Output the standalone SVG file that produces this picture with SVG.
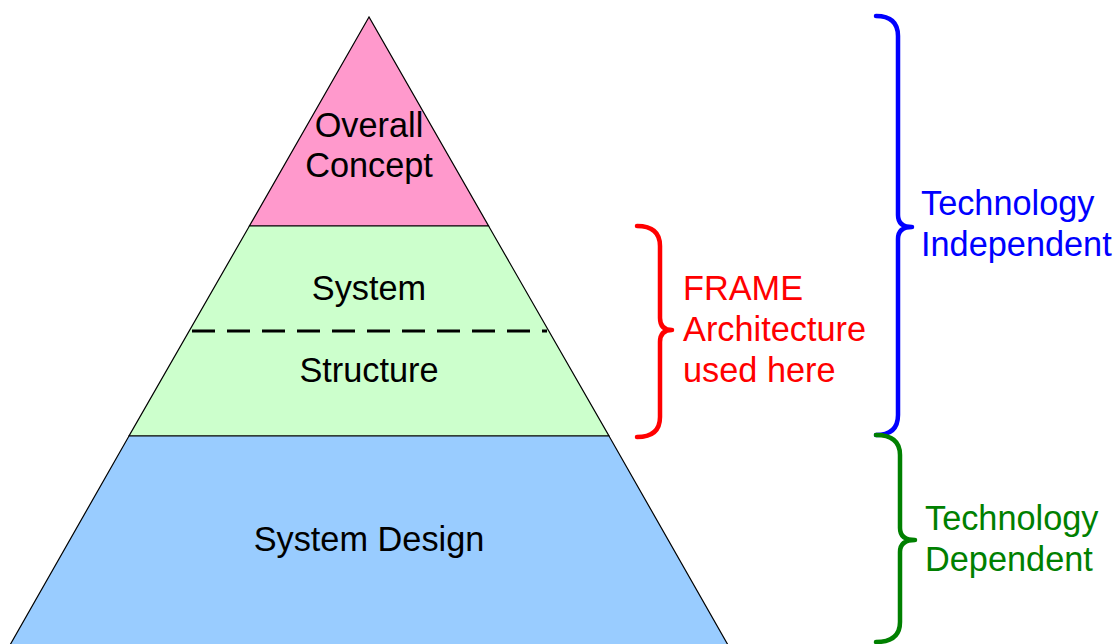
<svg xmlns="http://www.w3.org/2000/svg" width="1115" height="644" viewBox="0 0 1115 644">
<style>
.lvl{stroke:#000;stroke-width:1.2;stroke-linejoin:miter}
.t{font-family:"Liberation Sans",Arial,sans-serif;font-size:34.3px}
.c{text-anchor:middle;fill:#000}
.br{fill:none;stroke-width:4.5;stroke-linecap:round;stroke-linejoin:round}
</style>
<rect width="1115" height="644" fill="#fff"/>
<g id="overall-concept">
<polygon class="lvl" fill="#FF99CC" points="369,17 249.4,226 488.6,226"/>
<text class="t c" x="369" y="137">Overall</text>
<text class="t c" x="369" y="177">Concept</text>
</g>
<g id="system-structure">
<polygon class="lvl" fill="#CCFFCC" points="249.4,226 488.6,226 609,436 129,436"/>
<line x1="192" y1="331" x2="547" y2="331" stroke="#000" stroke-width="3" stroke-dasharray="23,12"/>
<text class="t c" x="369" y="300">System</text>
<text class="t c" x="369" y="382">Structure</text>
</g>
<g id="system-design">
<polygon class="lvl" fill="#99CCFF" points="129,436 609,436 728,645 10,645"/>
<text class="t c" x="369" y="551">System Design</text>
</g>
<g id="connectors">
<path class="br" stroke="#FF0000" d="M637,226 Q660,226 660,246 L660,318 Q660,330 672,330 Q660,330 660,342 L660,417 Q660,437 637,437"/>
<path class="br" stroke="#0000FF" d="M876,16 Q898,16 898,36 L898,215 Q898,227 912,227 Q898,227 898,239 L898,415 Q898,435 876,435"/>
<path class="br" stroke="#008000" d="M876,435 Q900,435 900,455 L900,528 Q900,540 915,540 Q900,540 900,552 L900,622 Q900,642 876,642"/>
</g>
<g id="frame-label">
<text class="t" fill="#FF0000" x="683" y="300">FRAME</text>
<text class="t" fill="#FF0000" x="683" y="341">Architecture</text>
<text class="t" fill="#FF0000" x="683" y="382">used here</text>
</g>
<g id="tech-independent">
<text class="t" fill="#0000FF" x="921" y="215">Technology</text>
<text class="t" fill="#0000FF" x="921" y="256">Independent</text>
</g>
<g id="tech-dependent">
<text class="t" fill="#008000" x="925" y="530">Technology</text>
<text class="t" fill="#008000" x="925" y="571">Dependent</text>
</g>
</svg>
